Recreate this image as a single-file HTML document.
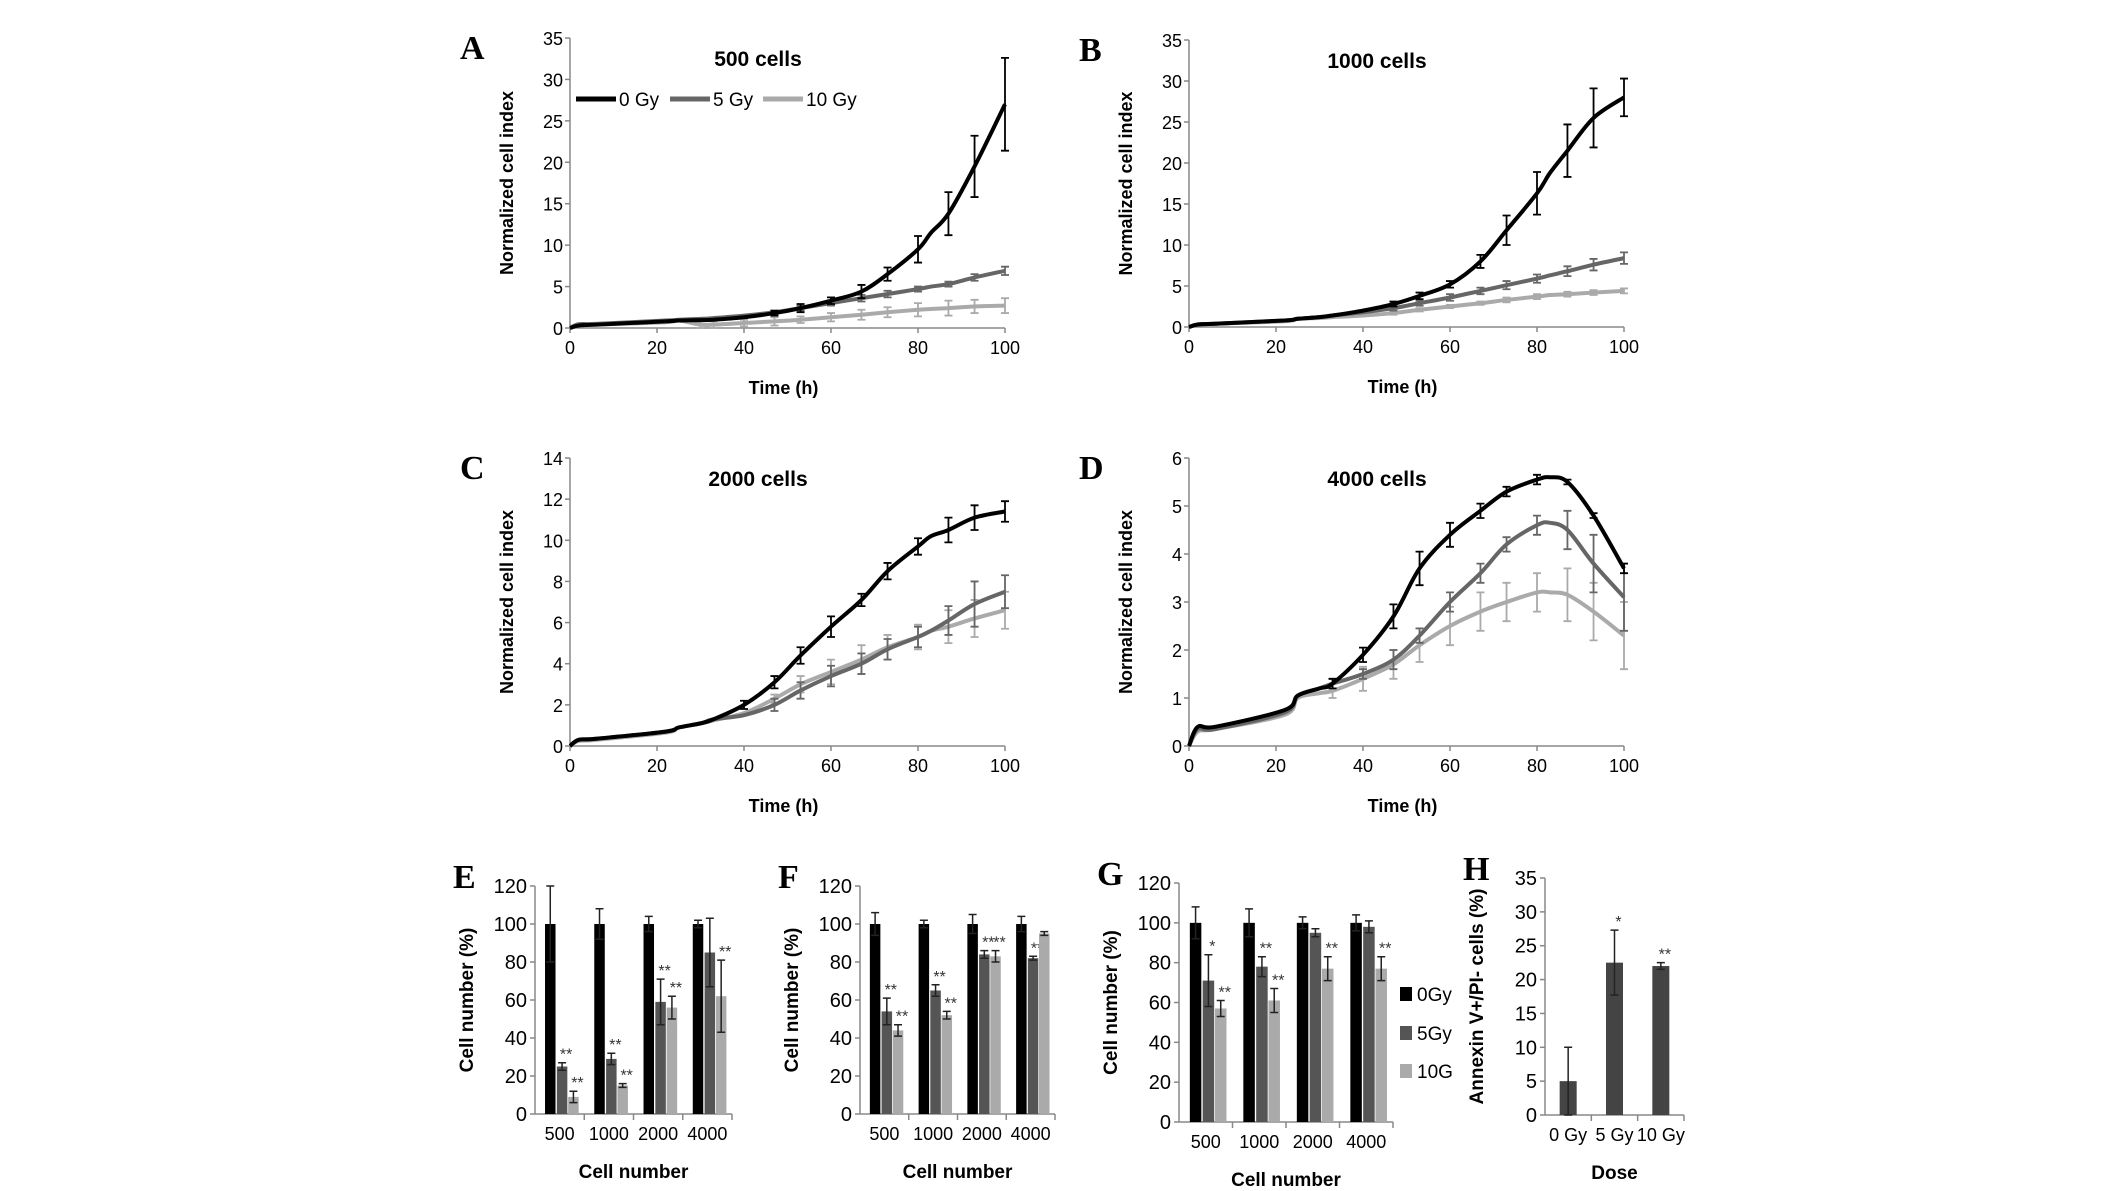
<!DOCTYPE html>
<html><head><meta charset="utf-8">
<style>
html,body{margin:0;padding:0;background:#fff;}
svg{display:block;}
text{font-family:"Liberation Sans",sans-serif;fill:#000;}
.tick{font-size:18px;}
.btick{font-size:20px;}
.ttl{font-size:21px;font-weight:bold;}
.ax{font-size:18px;font-weight:bold;}
.bax{font-size:19px;font-weight:bold;}
.let{font-family:"Liberation Serif",serif;font-size:34px;font-weight:bold;}
.leg{font-size:19px;}
.star{font-size:16px;fill:#333;}
</style></head>
<body>
<svg id="fig" width="2126" height="1191" viewBox="0 0 2126 1191" xmlns="http://www.w3.org/2000/svg"></svg>
<script>
// ---- line chart data ----
const times = [0,2,6,22,25,30,33,40,47,53,60,67,73,80,83,87,93,100];
const xTicks = [0,20,40,60,80,100];
const seriesNames = ['0 Gy','5 Gy','10 Gy'];
const A0 = [0,.3,.4,.8,.9,.95,1.0,1.3,1.8,2.4,3.3,4.4,6.5,9.5,11.5,13.8,19.5,27];
const A0e = [0,0,0,0,0,0,0,0,.3,.5,.4,.8,.8,1.6,0,2.6,3.7,5.6];
const A5 = [0,.45,.5,.9,1.0,1.1,1.2,1.5,1.9,2.4,3.0,3.6,4.1,4.7,5.0,5.3,6.1,6.9];
const A5e = [0,0,0,0,0,0,0,0,.2,.3,.3,.4,.4,.3,0,.3,.4,.5];
const A10 = [0,.3,.4,.7,.9,.4,.4,.6,.8,1.0,1.3,1.6,1.9,2.2,2.3,2.4,2.6,2.7];
const A10e = [0,0,0,0,0,.4,.4,.4,.5,.4,.5,.6,.6,.8,0,.9,.8,.9];
const B0 = [0,.3,.4,.8,1.0,1.2,1.4,2.0,2.8,3.8,5.2,8,11.8,16.3,18.8,21.5,25.5,28];
const B0e = [0,0,0,0,0,0,0,0,.3,.4,.4,.8,1.8,2.6,0,3.2,3.6,2.3];
const B5 = [0,.3,.4,.8,1.0,1.2,1.4,1.8,2.3,2.9,3.6,4.4,5.1,5.9,6.3,6.8,7.6,8.4];
const B5e = [0,0,0,0,0,0,0,0,.3,.3,.4,.4,.5,.5,0,.6,.7,.7];
const B10 = [0,.3,.4,.7,1.0,1.1,1.2,1.4,1.7,2.1,2.5,2.9,3.3,3.7,3.9,4.0,4.2,4.4];
const B10e = [0,0,0,0,0,0,0,0,.2,.2,.2,.2,.3,.3,0,.3,.3,.3];
const C0 = [0,.3,.35,.7,.9,1.1,1.3,2.0,3.1,4.4,5.8,7.1,8.5,9.7,10.2,10.5,11.1,11.4];
const C0e = [0,0,0,0,0,0,0,.2,.3,.4,.5,.3,.4,.4,0,.6,.6,.5];
const C5 = [0,.3,.35,.7,.9,1.1,1.3,1.5,2.0,2.7,3.4,4.0,4.7,5.3,5.6,6.1,6.9,7.5];
const C5e = [0,0,0,0,0,0,0,0,.3,.4,.5,.5,.5,.5,0,.7,1.1,.8];
const C10 = [0,.25,.3,.65,.9,1.1,1.25,1.6,2.3,3.0,3.6,4.2,4.8,5.3,5.6,5.8,6.2,6.6];
const C10e = [0,0,0,0,0,0,0,0,.2,.4,.6,.7,.6,.6,0,.8,.9,.9];
const D0 = [0,.4,.4,.75,1.05,1.2,1.3,1.9,2.7,3.7,4.4,4.9,5.3,5.55,5.6,5.5,4.8,3.7];
const D0e = [0,0,0,0,0,0,.1,.15,.25,.35,.25,.15,.1,.1,0,.05,.05,.1];
const D5 = [0,.35,.35,.7,1.05,1.2,1.3,1.5,1.8,2.3,3.0,3.6,4.2,4.6,4.65,4.5,3.8,3.1];
const D5e = [0,0,0,0,0,0,.1,.1,.2,.15,.2,.2,.15,.2,0,.4,.6,.7];
const D10 = [0,.3,.35,.65,1.0,1.1,1.15,1.4,1.7,2.1,2.5,2.8,3.0,3.2,3.2,3.15,2.8,2.3];
const D10e = [0,0,0,0,0,0,.15,.25,.3,.35,.4,.4,.4,.4,0,.55,.6,.7];

// ---- bar chart data ----
const cellCats = ['500','1000','2000','4000'];
const barNames = ['0Gy','5Gy','10G'];
const E0 = [100,100,100,100], E0e = [20,8,4,2];
const E5 = [25,29,59,85], E5e = [2,3,12,18];
const E10 = [9,15,56,62], E10e = [3,1,6,19];
const E5s = ['**','**','**',''], E10s = ['**','**','**','**'];
const F0 = [100,100,100,100], F0e = [6,2,5,4];
const F5 = [54,65,84,82], F5e = [7,3,2,1];
const F10 = [44,52,83,95], F10e = [3,2,3,1];
const F5s = ['**','**','**','**'], F10s = ['**','**','**',''];
const G0 = [100,100,100,100], G0e = [8,7,3,4];
const G5 = [71,78,95,98], G5e = [13,5,2,3];
const G10 = [57,61,77,77], G10e = [4,6,6,6];
const G5s = ['*','**','',''], G10s = ['**','**','**','**'];
const doseCats = ['0 Gy','5 Gy','10 Gy'];
const Hvals = [5,22.5,22];
const Herr = [5,4.8,0.5];
const Hstars = ['','*','**'];

const NS='http://www.w3.org/2000/svg';
const svg=document.getElementById('fig');
function mk(tag,attrs,parent){const e=document.createElementNS(NS,tag);for(const k in attrs)e.setAttribute(k,attrs[k]);(parent||svg).appendChild(e);return e;}
function txt(x,y,s,cls,anchor,parent){const t=mk('text',{x:x,y:y,class:cls,'text-anchor':anchor||'middle'},parent);t.textContent=s;return t;}
function smooth(pts){let d='M'+pts[0][0]+','+pts[0][1];for(let i=0;i<pts.length-1;i++){const p0=pts[i-1]||pts[i],p1=pts[i],p2=pts[i+1],p3=pts[i+2]||p2;const c1=[p1[0]+(p2[0]-p0[0])/6,p1[1]+(p2[1]-p0[1])/6],c2=[p2[0]-(p3[0]-p1[0])/6,p2[1]-(p3[1]-p1[1])/6];d+=' C'+c1[0]+','+c1[1]+' '+c2[0]+','+c2[1]+' '+p2[0]+','+p2[1];}return d;}
const lineColors=['#000','#666','#aaa'];

function linePanel(key,ox,oy,w,h,ymax,ystep,title,letter,series,errs,legend){
  const g=mk('g',{});
  
  
  const X=v=>ox+v/100*w, Y=v=>oy-v/ymax*h;
  const ya=mk('line',{x1:ox,y1:oy,x2:ox,y2:oy-h,stroke:'#888','stroke-width':1.5},g);
  
  
  const xa=mk('line',{x1:ox,y1:oy,x2:ox+w,y2:oy,stroke:'#888','stroke-width':1.5},g);
  
  
  for(let v=0;v<=ymax+1e-9;v+=ystep){
    mk('line',{x1:ox-5,y1:Y(v),x2:ox,y2:Y(v),stroke:'#888','stroke-width':1.5},g);
    const t=txt(ox-7,Y(v)+7,String(Math.round(v)),'tick','end',g);
    
    
  }
  xTicks.forEach(v=>{
    mk('line',{x1:X(v),y1:oy,x2:X(v),y2:oy+5,stroke:'#888','stroke-width':1.5},g);
    const t=txt(X(v),oy+26,String(v),'tick','middle',g);
    
    
  });
  series.slice().reverse().forEach((s,ri)=>{
    const i=series.length-1-ri;
    const p=mk('path',{d:smooth(times.map((t,j)=>[X(t),Y(s[j])])),fill:'none',stroke:lineColors[i],'stroke-width':4,'stroke-linejoin':'round'},g);
    
    
    errs[i].forEach((e,j)=>{ if(!e) return;
      const x=X(times[j]),y1=Y(s[j]+e),y2=Y(s[j]-e);
      const eb=mk('path',{d:`M${x},${y1}V${y2}M${x-4},${y1}H${x+4}M${x-4},${y2}H${x+4}`,stroke:lineColors[i],'stroke-width':1.8,fill:'none'},g);
      
      
    });
  });
  const tt=txt(ox+188,oy-h+28,title,'ttl','middle',g);
  
  
  const yt=txt(0,0,'Normalized cell index','ax','middle',g);
  yt.setAttribute('transform',`translate(${ox-57},${oy-h/2}) rotate(-90)`);
  
  
  const xt=txt(ox+w/2-4,oy+66,'Time (h)','ax','middle',g);
  
  
  const lt=txt(ox-110,oy-h+21,letter,'let','start',g);
  
  
  if(legend){
    const lx=[576,670,763];
    seriesNames.forEach((n,i)=>{
      const le=mk('g',{},g);
      
      
      mk('line',{x1:lx[i],y1:99,x2:lx[i]+40,y2:99,stroke:lineColors[i],'stroke-width':5},le);
      txt(lx[i]+43,106,n,'leg','start',le);
    });
  }
}
linePanel('a',570,328,435,290,35,5,'500 cells','A',[A0,A5,A10],[A0e,A5e,A10e],true);
linePanel('b',1189,327,435,287,35,5,'1000 cells','B',[B0,B5,B10],[B0e,B5e,B10e],false);
linePanel('c',570,746,435,288,14,2,'2000 cells','C',[C0,C5,C10],[C0e,C5e,C10e],false);
linePanel('d',1189,746,435,288,6,1,'4000 cells','D',[D0,D5,D10],[D0e,D5e,D10e],false);

const barColors=['#000','#555','#aaa'];
function barPanel(key,ox,oy,right,top,ymax,ystep,cats,vals,errs,stars,ytitle,xtitle,letter,colors,bw,offs){
  const g=mk('g',{});
  
  
  const h=oy-top, gw=(right-ox)/cats.length;
  const Y=v=>oy-v/ymax*h;
  const ya=mk('line',{x1:ox,y1:oy,x2:ox,y2:top,stroke:'#888','stroke-width':1.5},g);
  
  
  const xa=mk('line',{x1:ox,y1:oy,x2:right,y2:oy,stroke:'#888','stroke-width':1.5},g);
  
  
  for(let v=0;v<=ymax+1e-9;v+=ystep){
    mk('line',{x1:ox-5,y1:Y(v),x2:ox,y2:Y(v),stroke:'#888','stroke-width':1.5},g);
    const t=txt(ox-8,Y(v)+7,String(v),'btick','end',g);
    
    
  }
  cats.forEach((c,ci)=>{
    const gx=ox+ci*gw;
    mk('line',{x1:gx+gw,y1:oy,x2:gx+gw,y2:oy+6,stroke:'#888','stroke-width':1.5},g);
    const t=txt(gx+gw/2,oy+26,c,'tick','middle',g);
    
    
    vals.forEach((s,si)=>{
      const cx=gx+offs[si]*gw, v=s[ci], e=errs[si][ci];
      const r=mk('rect',{x:cx-bw/2,y:Y(v),width:bw,height:oy-Y(v),fill:colors[si]},g);
      
      
      if(e){
        const eb=mk('path',{d:`M${cx},${Y(v+e)}V${Y(v-e)}M${cx-4},${Y(v+e)}H${cx+4}M${cx-4},${Y(v-e)}H${cx+4}`,stroke:'#222','stroke-width':1.5,fill:'none'},g);
        
        
      }
      const st=stars[si]&&stars[si][ci];
      if(st){
        const s2=txt(cx+4,Y(v+e)-3,st,'star','middle',g);
        
        
      }
    });
  });
  const yt=txt(0,0,ytitle,'bax','middle',g);
  yt.setAttribute('transform',`translate(${ox-62},${oy-h/2}) rotate(-90)`);
  
  
  const xt=txt((ox+right)/2,oy+64,xtitle,'bax','middle',g);
  
  
  const lt=txt(ox-82,top+2,letter,'let','start',g);
  
  
}
const offs3=[0.31,0.55,0.78];
barPanel('e',535,1114,732,886,120,20,cellCats,[E0,E5,E10],[E0e,E5e,E10e],[null,E5s,E10s],'Cell number (%)','Cell number','E',barColors,10.5,offs3);
barPanel('f',860,1114,1055,886,120,20,cellCats,[F0,F5,F10],[F0e,F5e,F10e],[null,F5s,F10s],'Cell number (%)','Cell number','F',barColors,10.5,offs3);
barPanel('g',1179,1122,1393,883,120,20,cellCats,[G0,G5,G10],[G0e,G5e,G10e],[null,G5s,G10s],'Cell number (%)','Cell number','G',barColors,11.5,offs3);
barPanel('h',1545,1115,1684,878,35,5,doseCats,[Hvals],[Herr],[Hstars],'Annexin V+/PI- cells (%)','Dose','H',['#444'],17,[0.5]);

// legend for G
const ly=[994,1033,1071];
barNames.forEach((n,i)=>{
  const le=mk('g',{});
  
  
  mk('rect',{x:1400,y:ly[i]-7,width:12,height:14,fill:barColors[i]},le);
  txt(1417,ly[i]+7,n,'leg','start',le);
});
</script>
</body></html>
